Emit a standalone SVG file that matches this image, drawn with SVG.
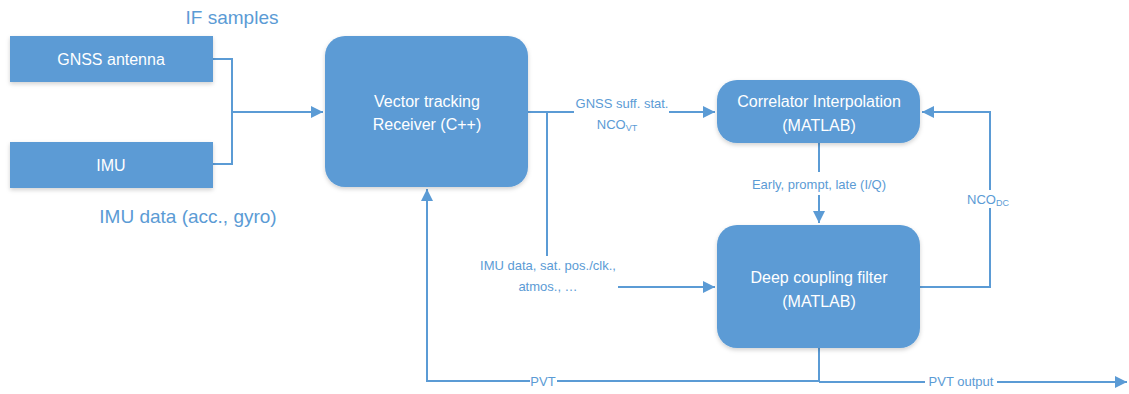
<svg xmlns="http://www.w3.org/2000/svg" width="1129" height="394" viewBox="0 0 1129 394">
<style>
.box{fill:#5B9BD5;filter:url(#sh)}
.bt{fill:#fff;font-family:"Liberation Sans",Arial,sans-serif;font-size:16px;text-anchor:middle}
.ln{fill:none;stroke:#5B9BD5;stroke-width:2}
.lbl{fill:#5B9BD5;font-family:"Liberation Sans",Arial,sans-serif;font-size:13px;text-anchor:middle}
.big{fill:#5B9BD5;font-family:"Liberation Sans",Arial,sans-serif;font-size:19px;text-anchor:middle}
</style>
<defs>
<filter id="sh" x="-10%" y="-10%" width="120%" height="130%">
<feDropShadow dx="0" dy="2" stdDeviation="2" flood-color="#000" flood-opacity="0.18"/>
</filter>
<marker id="ar" viewBox="0 0 10 10" refX="10" refY="5" markerWidth="6" markerHeight="6" orient="auto" markerUnits="strokeWidth">
<path d="M0,0 L10,5 L0,10 z" fill="#5B9BD5"/>
</marker>
</defs>
<g id="connectors">
<path class="ln" d="M213,59 H232 V164 H213"/>
<path class="ln" d="M232,112 H323" marker-end="url(#ar)"/>
<path class="ln" d="M528,112 H574"/>
<path class="ln" d="M669,112 H715" marker-end="url(#ar)"/>
<path class="ln" d="M547,112 V256"/>
<path class="ln" d="M618,287 H715" marker-end="url(#ar)"/>
<path class="ln" d="M819,143 V172"/>
<path class="ln" d="M819,195 V223" marker-end="url(#ar)"/>
<path class="ln" d="M920,287 H990 V208"/>
<path class="ln" d="M990,190 V112 H922" marker-end="url(#ar)"/>
<path class="ln" d="M819,348 V381 H557"/>
<path class="ln" d="M530,381 H427 V189" marker-end="url(#ar)"/>
<path class="ln" d="M819,382 H925"/>
<path class="ln" d="M997,382 H1127" marker-end="url(#ar)"/>
<text class="lbl" x="622" y="108" font-size="12.5">GNSS suff. stat.</text>
<text class="lbl" x="617" y="129">NCO<tspan font-size="9" dy="2">VT</tspan></text>
<text class="lbl" x="819" y="189">Early, prompt, late (I/Q)</text>
<text class="lbl" x="548" y="270">IMU data, sat. pos./clk.,</text>
<text class="lbl" x="548" y="291">atmos., …</text>
<text class="lbl" x="988" y="204">NCO<tspan font-size="9" dy="2">DC</tspan></text>
<text class="lbl" x="543" y="386">PVT</text>
<text class="lbl" x="961" y="386">PVT output</text>
</g>
<text class="big" x="232" y="24">IF samples</text>
<text class="big" x="188" y="223" font-size="19.5">IMU data (acc., gyro)</text>
<g id="gnss">
<rect class="box" x="10" y="36" width="203" height="46"/>
<text class="bt" x="111" y="65">GNSS antenna</text>
</g>
<g id="imu">
<rect class="box" x="10" y="142" width="203" height="46"/>
<text class="bt" x="111" y="171">IMU</text>
</g>
<g id="vtr">
<rect class="box" x="325" y="36" width="203" height="151" rx="20"/>
<text class="bt" x="427" y="107">Vector tracking</text>
<text class="bt" x="427" y="130">Receiver (C++)</text>
</g>
<g id="corr">
<rect class="box" x="717" y="80" width="203" height="63" rx="20"/>
<text class="bt" x="819" y="107">Correlator Interpolation</text>
<text class="bt" x="819" y="131">(MATLAB)</text>
</g>
<g id="dcf">
<rect class="box" x="717" y="225" width="203" height="123" rx="20"/>
<text class="bt" x="819" y="283">Deep coupling filter</text>
<text class="bt" x="819" y="307">(MATLAB)</text>
</g>
</svg>
